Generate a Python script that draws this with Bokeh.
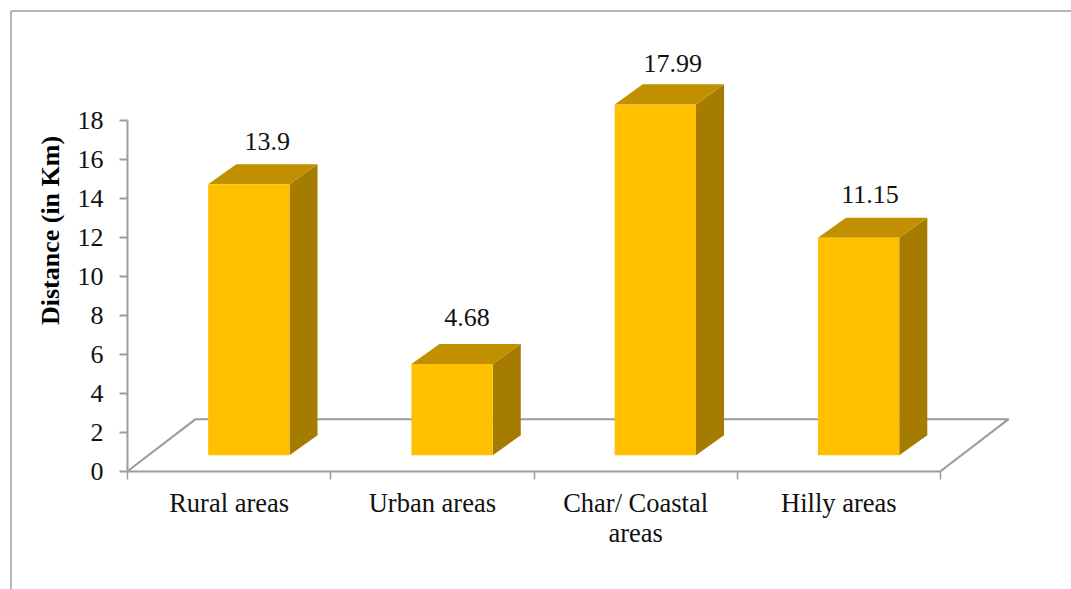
import math

from bokeh.embed import file_html
from bokeh.models import FixedTicker, Range1d
from bokeh.plotting import figure
from bokeh.resources import INLINE
from bokeh.core.properties import value

# Chart content
categories = ["Rural areas", "Urban areas", "Char/ Coastal\nareas", "Hilly areas"]
distances = [13.9, 4.68, 17.99, 11.15]
value_labels = ["13.9", "4.68", "17.99", "11.15"]
y_ticks = [0, 2, 4, 6, 8, 10, 12, 14, 16, 18]

# Page layout: where the axes cross, and the scale of each axis in pixels
WIDTH, HEIGHT = 1071, 589
ORIGIN_X, ORIGIN_Y = 127, 470.75
PX_PER_CATEGORY = 203.25
PX_PER_KM = 19.5


def from_px(px, py):
    """Convert a page position to axis units."""
    return (px - ORIGIN_X) / PX_PER_CATEGORY, (ORIGIN_Y - py) / PX_PER_KM


# Oblique projection used for the 3D look, in axis units
BAR_WIDTH = 0.4
BAR_CENTRE = 0.597
BAR_BASE = 0.82
DEPTH_X = 0.138
DEPTH_Y = 1.03
FLOOR_X = 0.335
FLOOR_Y = 2.667

# Offsets of the value labels from the column's front-top centre and back edge, in pixels
label_dx = [18.5, 15, 17.5, 11.5]
label_dy = [23, 26, 21, 23]

FONT = "Liberation Serif"
TEXT_SIZE = "26px"
TEXT_COLOR = "#111111"
GREY = "#9c9c9c"
FRONT = "#ffc000"
TOP = "#c09000"
SIDE = "#a67c00"

left, bottom = from_px(0, HEIGHT)
right, top = from_px(WIDTH, 0)

p = figure(
    width=WIDTH, height=HEIGHT,
    output_backend="svg", toolbar_location=None,
    x_range=Range1d(left, right), y_range=Range1d(bottom, top),
    min_border=0, outline_line_color=None, background_fill_color="white",
)
p.grid.visible = False

# Outer chart frame, running off the page on the right and bottom
frame_x0, frame_y0 = from_px(10.5, 10.5)
p.line([frame_x0, frame_x0], [bottom, frame_y0], line_color=GREY, line_width=1.5)
p.line([frame_x0, right], [frame_y0, frame_y0], line_color=GREY, line_width=1.5)

# Chart floor behind the columns
n = len(categories)
p.line([0, FLOOR_X, n + FLOOR_X, n], [0, FLOOR_Y, FLOOR_Y, 0], line_color=GREY, line_width=2.2)

# Columns: side face, top face, then front face
for i, d in enumerate(distances):
    x0 = i + BAR_CENTRE - BAR_WIDTH / 2
    x1 = x0 + BAR_WIDTH
    y0 = BAR_BASE
    y1 = BAR_BASE + d
    p.patch([x1, x1 + DEPTH_X, x1 + DEPTH_X, x1],
            [y0, y0 + DEPTH_Y, y1 + DEPTH_Y, y1], fill_color=SIDE, line_color=None)
    p.patch([x0, x0 + DEPTH_X, x1 + DEPTH_X, x1],
            [y1, y1 + DEPTH_Y, y1 + DEPTH_Y, y1], fill_color=TOP, line_color=None)
    p.patch([x0, x1, x1, x0], [y0, y0, y1, y1], fill_color=FRONT, line_color=None)

# Value labels above each column
p.text(
    x=[i + BAR_CENTRE + label_dx[i] / PX_PER_CATEGORY for i in range(n)],
    y=[BAR_BASE + d + DEPTH_Y + label_dy[i] / PX_PER_KM for i, d in enumerate(distances)],
    text=value_labels,
    text_font=value(FONT), text_font_size=TEXT_SIZE, text_color=TEXT_COLOR,
    text_align="center", text_baseline="middle",
)

# Value-axis title, centred on the upper part of the axis
title_x, title_y = from_px(50, 230)
p.text(
    x=[title_x], y=[title_y], text=["Distance (in Km)"], angle=math.pi / 2,
    text_font=value(FONT), text_font_size=TEXT_SIZE, text_font_style="bold",
    text_color="black", text_align="center", text_baseline="middle",
)

# Value axis
ya = p.yaxis[0]
ya.fixed_location = 0
ya.bounds = (0, 18)
ya.ticker = FixedTicker(ticks=y_ticks)
ya.axis_line_color = GREY
ya.axis_line_width = 2
ya.major_tick_line_color = GREY
ya.major_tick_line_width = 2
ya.major_tick_in = 0
ya.major_tick_out = 8
ya.minor_tick_line_color = None
ya.major_label_text_font = FONT
ya.major_label_text_font_size = TEXT_SIZE
ya.major_label_text_color = TEXT_COLOR
ya.major_label_standoff = 16

# Category axis: ticks on the category boundaries, labels on the centres
xa = p.xaxis[0]
xa.fixed_location = 0
xa.bounds = (0, n)
xa.ticker = FixedTicker(ticks=[i + 0.5 for i in range(n)], minor_ticks=list(range(n + 1)))
xa.major_label_overrides = {i + 0.5: c for i, c in enumerate(categories)}
xa.axis_line_color = GREY
xa.axis_line_width = 2
xa.major_tick_line_color = None
xa.major_tick_in = 0
xa.major_tick_out = 0
xa.minor_tick_line_color = GREY
xa.minor_tick_line_width = 1.5
xa.minor_tick_in = 0
xa.minor_tick_out = 8
xa.major_label_text_font = FONT
xa.major_label_text_font_size = "26.5px"
xa.major_label_text_color = TEXT_COLOR
xa.major_label_text_line_height = 1.0
xa.major_label_standoff = 9

open("out.html", "w").write(file_html(p, INLINE))
